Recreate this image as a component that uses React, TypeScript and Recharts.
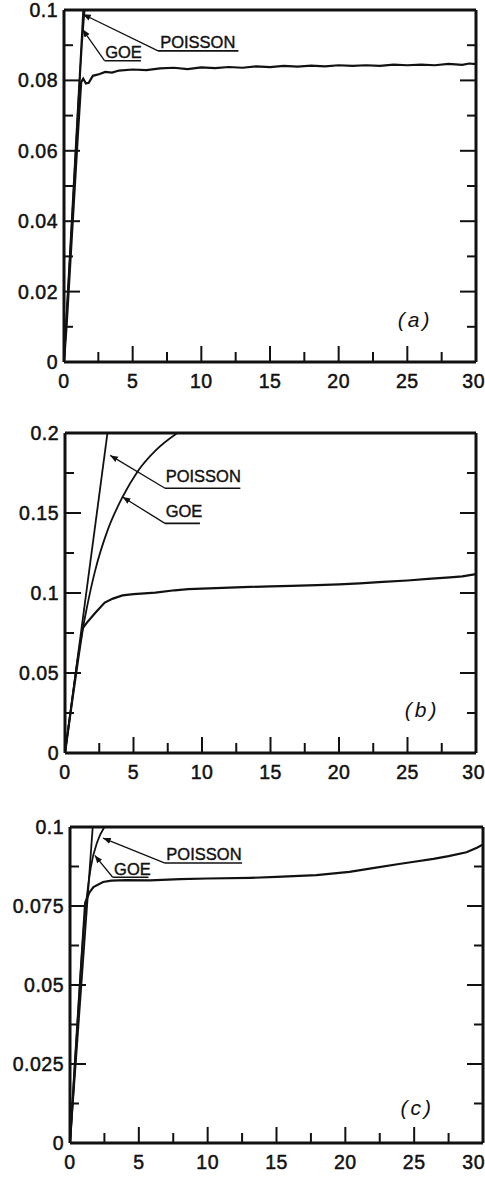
import React from "react";
import {
  LineChart,
  Line,
  XAxis,
  YAxis,
  ReferenceLine,
  ReferenceDot,
} from "recharts";

type Pt = { x: number; y: number };

// shared x axis
const xTicks = [0, 2.5, 5, 7.5, 10, 12.5, 15, 17.5, 20, 22.5, 25, 27.5, 30];
const xLabels = ["0", "", "5", "", "10", "", "15", "", "20", "", "25", "", "30"];

// panel (a)
const yTicksA = [0, 0.01, 0.02, 0.03, 0.04, 0.05, 0.06, 0.07, 0.08, 0.09, 0.1];
const yLabelsA = ["0", "", "0.02", "", "0.04", "", "0.06", "", "0.08", "", "0.1"];
const poissonA: Pt[] = [
  { x: 0, y: 0 },
  { x: 1.4, y: 0.1 },
];
const goeA: Pt[] = [
  { x: 0, y: 0 },
  { x: 0.6, y: 0.041 },
  { x: 1.0, y: 0.07 },
  { x: 1.3, y: 0.09 },
  { x: 1.5, y: 0.1 },
];
const dataA: Pt[] = [
  { x: 0, y: 0 }, { x: 0.2, y: 0.011 }, { x: 0.5, y: 0.031 }, { x: 1.0, y: 0.064 },
  { x: 1.25, y: 0.0795 }, { x: 1.4, y: 0.0805 }, { x: 1.6, y: 0.0791 }, { x: 1.8, y: 0.0793 },
  { x: 2.1, y: 0.0813 }, { x: 2.6, y: 0.0818 }, { x: 3, y: 0.0824 }, { x: 3.5, y: 0.0822 },
  { x: 4, y: 0.0828 }, { x: 5, y: 0.0831 }, { x: 6, y: 0.0829 }, { x: 7, y: 0.0834 },
  { x: 8, y: 0.0836 }, { x: 9, y: 0.0832 }, { x: 10, y: 0.0837 }, { x: 11, y: 0.0835 },
  { x: 12, y: 0.0838 }, { x: 13, y: 0.0836 }, { x: 14, y: 0.084 }, { x: 15, y: 0.0838 },
  { x: 16, y: 0.0841 }, { x: 17, y: 0.0839 }, { x: 18, y: 0.0842 }, { x: 19, y: 0.084 },
  { x: 20, y: 0.0843 }, { x: 21, y: 0.0841 }, { x: 22, y: 0.0843 }, { x: 23, y: 0.0841 },
  { x: 24, y: 0.0845 }, { x: 25, y: 0.0843 }, { x: 26, y: 0.0845 }, { x: 27, y: 0.0843 },
  { x: 28, y: 0.0847 }, { x: 29, y: 0.0844 }, { x: 29.5, y: 0.0848 }, { x: 30, y: 0.0846 },
];

// panel (b)
const yTicksB = [0, 0.025, 0.05, 0.075, 0.1, 0.125, 0.15, 0.175, 0.2];
const yLabelsB = ["0", "", "0.05", "", "0.1", "", "0.15", "", "0.2"];
const poissonB: Pt[] = [
  { x: 0, y: 0 },
  { x: 3.1, y: 0.2 },
];
const goeB: Pt[] = [
  { x: 0, y: 0 }, { x: 0.5, y: 0.032 }, { x: 1.0, y: 0.063 }, { x: 1.6, y: 0.091 },
  { x: 2.2, y: 0.114 }, { x: 3.1, y: 0.139 }, { x: 4.2, y: 0.16 }, { x: 5.3, y: 0.176 },
  { x: 6.6, y: 0.189 }, { x: 8.2, y: 0.2 },
];
const dataB: Pt[] = [
  { x: 0, y: 0 }, { x: 0.5, y: 0.031 }, { x: 1.0, y: 0.061 }, { x: 1.3, y: 0.078 },
  { x: 1.6, y: 0.0815 }, { x: 2.2, y: 0.0875 }, { x: 2.9, y: 0.094 }, { x: 3.5, y: 0.0965 },
  { x: 4.2, y: 0.0985 }, { x: 5, y: 0.0993 }, { x: 6.6, y: 0.1002 }, { x: 8, y: 0.1017 },
  { x: 9, y: 0.1024 }, { x: 10.5, y: 0.1029 }, { x: 12, y: 0.1034 }, { x: 13.5, y: 0.1038 },
  { x: 15, y: 0.1042 }, { x: 16.5, y: 0.1044 }, { x: 18.4, y: 0.1049 }, { x: 20, y: 0.1054 },
  { x: 21.5, y: 0.106 }, { x: 23.2, y: 0.1069 }, { x: 25, y: 0.1078 }, { x: 26.5, y: 0.1088 },
  { x: 28.1, y: 0.1098 }, { x: 29, y: 0.1104 }, { x: 30, y: 0.1118 },
];

// panel (c)
const yTicksC = [0, 0.0125, 0.025, 0.0375, 0.05, 0.0625, 0.075, 0.0875, 0.1];
const yLabelsC = ["0", "", "0.025", "", "0.05", "", "0.075", "", "0.1"];
const poissonC: Pt[] = [
  { x: 0, y: 0 },
  { x: 1.65, y: 0.1 },
];
const goeC: Pt[] = [
  { x: 0, y: 0 }, { x: 0.5, y: 0.035 }, { x: 1.0, y: 0.068 }, { x: 1.5, y: 0.087 },
  { x: 2.0, y: 0.0955 }, { x: 2.5, y: 0.1 },
];
const dataC: Pt[] = [
  { x: 0, y: 0 }, { x: 0.5, y: 0.035 }, { x: 1.1, y: 0.076 }, { x: 1.4, y: 0.0792 },
  { x: 1.7, y: 0.081 }, { x: 2.4, y: 0.0826 }, { x: 3, y: 0.083 }, { x: 4.1, y: 0.0832 },
  { x: 5.8, y: 0.0831 }, { x: 8, y: 0.0835 }, { x: 10, y: 0.0837 }, { x: 13.1, y: 0.0839 },
  { x: 15, y: 0.0842 }, { x: 17.9, y: 0.0848 }, { x: 20.3, y: 0.0858 }, { x: 22, y: 0.087 },
  { x: 23.9, y: 0.0883 }, { x: 25, y: 0.089 }, { x: 26.4, y: 0.0899 }, { x: 27.5, y: 0.0908 },
  { x: 28.8, y: 0.092 }, { x: 29.6, y: 0.0935 }, { x: 30, y: 0.0945 },
];

type Note = { text: string; at: Pt; line: [Pt, Pt]; tip: Pt };

const notesA: Note[] = [
  { text: "POISSON", at: { x: 7.0, y: 0.0893 }, line: [{ x: 6.85, y: 0.0884 }, { x: 12.7, y: 0.0884 }], tip: { x: 1.38, y: 0.0988 } },
  { text: "GOE", at: { x: 3.0, y: 0.0865 }, line: [{ x: 2.95, y: 0.0856 }, { x: 5.6, y: 0.0856 }], tip: { x: 1.35, y: 0.0945 } },
];
const notesB: Note[] = [
  { text: "POISSON", at: { x: 7.35, y: 0.1695 }, line: [{ x: 7.3, y: 0.1655 }, { x: 12.8, y: 0.1655 }], tip: { x: 3.3, y: 0.186 } },
  { text: "GOE", at: { x: 7.35, y: 0.1475 }, line: [{ x: 7.3, y: 0.1435 }, { x: 9.85, y: 0.1435 }], tip: { x: 4.2, y: 0.16 } },
];
const notesC: Note[] = [
  { text: "POISSON", at: { x: 7.0, y: 0.0897 }, line: [{ x: 6.9, y: 0.0886 }, { x: 12.5, y: 0.0886 }], tip: { x: 2.4, y: 0.0965 } },
  { text: "GOE", at: { x: 3.2, y: 0.0849 }, line: [{ x: 3.1, y: 0.0841 }, { x: 5.7, y: 0.0841 }], tip: { x: 1.8, y: 0.091 } },
];

const FONT = "'Liberation Sans', Arial, sans-serif";
const INK = "#111";

const LeftTick = (p: any, ticks: number[], labels: string[]) => {
  const lab = labels[ticks.indexOf(p.payload.value)];
  const len = lab ? 16 : 9;
  return (
    <g>
      <line x1={p.x} y1={p.y} x2={p.x + len} y2={p.y} stroke={INK} strokeWidth={2} />
      {lab ? (
        <text x={p.x - 6} y={p.y} dy="0.36em" textAnchor="end" fontFamily={FONT} fontSize={19.5} letterSpacing={0.5} fill={INK} stroke={INK} strokeWidth={0.5}>
          {lab}
        </text>
      ) : null}
    </g>
  );
};

// right frame: tick marks only, pointing inward
const RightTick = (p: any, ticks: number[], labels: string[]) => {
  const lab = labels[ticks.indexOf(p.payload.value)];
  const len = lab ? 16 : 9;
  return <line x1={p.x} y1={p.y} x2={p.x - len} y2={p.y} stroke={INK} strokeWidth={2} />;
};

const BottomTick = (p: any) => {
  const value = p.payload.value;
  const lab = xLabels[xTicks.indexOf(value)];
  const len = lab ? 16 : 10;
  const last = value === xTicks[xTicks.length - 1];
  return (
    <g>
      <line x1={p.x} y1={p.y} x2={p.x} y2={p.y - len} stroke={INK} strokeWidth={2} />
      {lab ? (
        <text
          x={last ? Math.min(p.x + 10, 485) : p.x}
          y={p.y + 19}
          dy="0.36em"
          textAnchor={last ? "end" : "middle"}
          fontFamily={FONT}
          fontSize={19.5}
          letterSpacing={0.5}
          fill={INK}
          stroke={INK}
          strokeWidth={0.5}
        >
          {lab}
        </text>
      ) : null}
    </g>
  );
};

const TopTick = (p: any) => {
  const lab = xLabels[xTicks.indexOf(p.payload.value)];
  const len = lab ? 16 : 10;
  return <line x1={p.x} y1={p.y} x2={p.x} y2={p.y + len} stroke={INK} strokeWidth={2} />;
};

interface PanelProps {
  top: number;
  height: number;
  marginTop: number;
  xAxisHeight: number;
  yAxisWidth: number;
  marginRight: number;
  yMax: number;
  yTicks: number[];
  yLabels: string[];
  poisson: Pt[];
  goe: Pt[];
  data: Pt[];
  notes: Note[];
  tag: string;
  tagAt: Pt;
}

function Panel(props: PanelProps) {
  const { top, height, marginTop, xAxisHeight, yAxisWidth, marginRight, yMax, yTicks, yLabels } = props;
  return (
    <div style={{ position: "absolute", left: 0, top, width: 485, height }}>
      <LineChart width={485} height={height} margin={{ top: marginTop - 1, right: marginRight - 1, bottom: 0, left: 0 }}>
        <XAxis
          xAxisId={0}
          type="number"
          dataKey="x"
          domain={[0, 30]}
          ticks={xTicks}
          interval={0}
          height={xAxisHeight}
          tickSize={0}
          tickMargin={0}
          tickLine={false}
          axisLine={{ stroke: INK, strokeWidth: 3 }}
          tick={BottomTick}
        />
        <XAxis
          xAxisId="top"
          orientation="top"
          type="number"
          dataKey="x"
          domain={[0, 30]}
          ticks={xTicks}
          interval={0}
          height={1}
          tickSize={0}
          tickMargin={0}
          tickLine={false}
          axisLine={{ stroke: INK, strokeWidth: 3 }}
          tick={TopTick}
        />
        <YAxis
          yAxisId={0}
          type="number"
          domain={[0, yMax]}
          allowDataOverflow
          ticks={yTicks}
          interval={0}
          width={yAxisWidth}
          tickSize={0}
          tickMargin={0}
          tickLine={false}
          axisLine={{ stroke: INK, strokeWidth: 3 }}
          tick={(p: any) => LeftTick(p, yTicks, yLabels)}
        />
        <YAxis
          yAxisId="right"
          orientation="right"
          type="number"
          domain={[0, yMax]}
          allowDataOverflow
          ticks={yTicks}
          interval={0}
          width={1}
          tickSize={0}
          tickMargin={0}
          tickLine={false}
          axisLine={{ stroke: INK, strokeWidth: 3 }}
          tick={(p: any) => RightTick(p, yTicks, yLabels)}
        />
        <Line data={props.poisson} dataKey="y" type="linear" dot={false} stroke={INK} strokeWidth={1.8} isAnimationActive={false} />
        <Line data={props.goe} dataKey="y" type="monotone" dot={false} stroke={INK} strokeWidth={1.8} isAnimationActive={false} />
        <Line data={props.data} dataKey="y" type="linear" dot={false} stroke={INK} strokeWidth={2.2} isAnimationActive={false} />
        {props.notes.map((n, i) => (
          <ReferenceLine key={"u" + i} segment={n.line} ifOverflow="visible" stroke={INK} strokeWidth={1.6} />
        ))}
        {props.notes.map((n, i) => (
          <ReferenceLine
            key={"l" + i}
            segment={[n.line[0], n.tip]}
            ifOverflow="visible"
            stroke={INK}
            strokeWidth={1.3}
            markerEnd="url(#arrowHead)"
          />
        ))}
        {props.notes.map((n, i) => (
          <ReferenceDot
            key={"t" + i}
            x={n.at.x}
            y={n.at.y}
            r={0}
            ifOverflow="visible"
            label={(lp: any) => (
              <text x={lp.viewBox.x} y={lp.viewBox.y} fontFamily={FONT} fontSize={16.5} fill={INK} stroke={INK} strokeWidth={0.4}>
                {n.text}
              </text>
            )}
          />
        ))}
        <ReferenceDot
          x={props.tagAt.x}
          y={props.tagAt.y}
          r={0}
          ifOverflow="visible"
          label={(lp: any) => (
            <text x={lp.viewBox.x} y={lp.viewBox.y} fontFamily={FONT} fontStyle="italic" fontSize={21} letterSpacing={3} fill={INK}>
              {props.tag}
            </text>
          )}
        />
      </LineChart>
    </div>
  );
}

export default function App() {
  return (
    <div style={{ position: "absolute", left: 0, top: 0, width: 485, height: 1177, background: "#fff" }}>
      <svg width={0} height={0} style={{ position: "absolute" }}>
        <defs>
          <marker id="arrowHead" viewBox="0 0 10 10" refX="10" refY="5" markerWidth="6" markerHeight="6" orient="auto">
            <path d="M0,1 L10,5 L0,9 z" fill={INK} />
          </marker>
        </defs>
      </svg>
      <Panel
        top={0}
        height={400}
        marginTop={10}
        xAxisHeight={38}
        yAxisWidth={64}
        marginRight={9}
        yMax={0.1}
        yTicks={yTicksA}
        yLabels={yLabelsA}
        poisson={poissonA}
        goe={goeA}
        data={dataA}
        notes={notesA}
        tag="(a)"
        tagAt={{ x: 24.3, y: 0.0099 }}
      />
      <Panel
        top={400}
        height={400}
        marginTop={33}
        xAxisHeight={47}
        yAxisWidth={65}
        marginRight={9}
        yMax={0.2}
        yTicks={yTicksB}
        yLabels={yLabelsB}
        poisson={poissonB}
        goe={goeB}
        data={dataB}
        notes={notesB}
        tag="(b)"
        tagAt={{ x: 24.8, y: 0.0225 }}
      />
      <Panel
        top={800}
        height={377}
        marginTop={27}
        xAxisHeight={34}
        yAxisWidth={70}
        marginRight={2}
        yMax={0.1}
        yTicks={yTicksC}
        yLabels={yLabelsC}
        poisson={poissonC}
        goe={goeC}
        data={dataC}
        notes={notesC}
        tag="(c)"
        tagAt={{ x: 24, y: 0.0089 }}
      />
    </div>
  );
}
